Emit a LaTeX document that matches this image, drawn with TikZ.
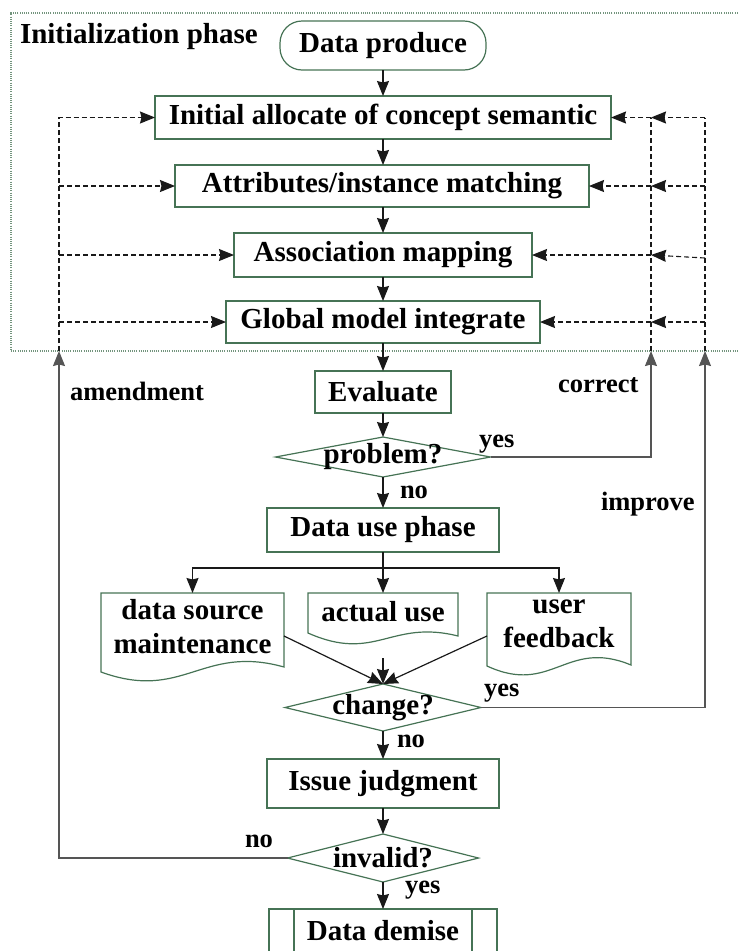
\documentclass[tikz,border=0pt]{standalone}
\usepackage{fontspec}
\setmainfont{Liberation Serif}
\usetikzlibrary{arrows.meta,shapes.geometric,calc}

\definecolor{boxgreen}{RGB}{70,115,85}
\definecolor{framegreen}{RGB}{115,148,125}
\definecolor{flowgray}{RGB}{25,25,25}
\definecolor{backgray}{RGB}{85,85,85}

\begin{document}
\begin{tikzpicture}[x=1pt,y=-1pt,
  >={Stealth[length=15pt,width=12pt,inset=1.5pt]},
  every node/.style={font=\bfseries\fontsize{29}{34}\selectfont, inner sep=0pt, outer sep=0pt},
  box/.style={draw=boxgreen, line width=1.2pt, rectangle, align=center},
  term/.style={box, rounded corners=22pt},
  dmd/.style={draw=boxgreen, line width=1.2pt, diamond},
  doctext/.style={align=center},
  docline/.style={draw=boxgreen, line width=1.2pt},
  lbl/.style={font=\bfseries\fontsize{26.5}{30}\selectfont, anchor=base west},
  flow/.style={draw=flowgray, line width=1.2pt},
  backline/.style={draw=backgray, line width=1.3pt},
  dashline/.style={draw=flowgray, line width=1.1pt, dash pattern=on 5pt off 3pt},
  frameline/.style={draw=framegreen, line width=1.1pt, dash pattern=on 1pt off 1.2pt}
]
\useasboundingbox (0,0) rectangle (737,951);

% initialization phase frame
\draw[frameline] (740,13) -- (11,13) -- (11,351) -- (740,351);
\node[anchor=base west] (ttl) at (20,43) {Initialization phase};

% main column
\node[term, minimum width=206pt, minimum height=49pt] (dp) at (383,45.5) {Data produce};
\node[box, minimum width=456pt, minimum height=43pt] (ini) at (383,117.5) {Initial allocate of concept semantic};
\node[box, minimum width=414pt, minimum height=42pt] (att) at (382,186) {Attributes/instance matching};
\node[box, minimum width=298pt, minimum height=44pt] (asc) at (383,255) {Association mapping};
\node[box, minimum width=314pt, minimum height=42pt] (glb) at (383,322) {Global model integrate};
\node[box, minimum width=136pt, minimum height=42pt] (evl) at (383,392) {Evaluate};
\node[dmd, minimum width=215pt, minimum height=40pt, label={center:problem?}] (prb) at (383,457) {};
\node[box, minimum width=232pt, minimum height=44pt] (use) at (383,530) {Data use phase};

% document shapes of the data use phase
\draw[docline] (101,593) -- (284,593) -- (284,667)
  .. controls (201.7,644) and (183.4,702) .. (101,672) -- cycle;
\draw[docline] (308,593) -- (458,593) -- (458,636)
  .. controls (390.5,619) and (375.5,663) .. (308,633) -- cycle;
\draw[docline] (487,593) -- (631,593) -- (631,665)
  .. controls (566.2,638) and (551.8,696) .. (487,666) -- cycle;
\node[doctext, minimum width=183pt, minimum height=68pt] (dsm) at (192.5,627) {data source\\maintenance};
\node[doctext, minimum width=150pt, minimum height=38pt] (act) at (383,612) {actual use};
\node[doctext, minimum width=144pt, minimum height=61pt] (ufb) at (559,623.5) {user\\feedback};

\node[dmd, minimum width=196pt, minimum height=47pt, label={center:change?}] (chg) at (383,707.5) {};
\node[box, minimum width=232pt, minimum height=49pt] (isj) at (383,783.5) {Issue judgment};
\node[dmd, minimum width=191pt, minimum height=48pt, label={center:invalid?}] (inv) at (383,858) {};
\node[box, minimum width=228pt, minimum height=44pt] (dmz) at (383,931) {Data demise};
\draw[docline] ([xshift=25pt]dmz.north west) -- ([xshift=25pt]dmz.south west);
\draw[docline] ([xshift=-25pt]dmz.north east) -- ([xshift=-25pt]dmz.south east);

% main flow
\draw[flow,->] (dp) -- (ini);
\draw[flow,->] (ini) -- (att.north -| ini);
\draw[flow,->] (att.south -| asc) -- (asc);
\draw[flow,->] (asc) -- (glb);
\draw[flow,->] (glb) -- (evl);
\draw[flow,->] (evl) -- (prb);
\draw[flow,->] (prb) -- (use);
\coordinate (br) at (383,568);
\draw[flow] (use) -- (br);
\draw[flow,->] (br) -| (dsm.north);
\draw[flow,->] (br) -- (act.north);
\draw[flow,->] (br) -| (ufb.north);
\draw[flow,->] ([yshift=-9pt]dsm.east) -- (chg.north);
\draw[flow,->] ([yshift=-27pt]act.south) -- (chg.north);
\draw[flow,->] ([yshift=-12.5pt]ufb.west) -- (chg.north);
\draw[flow,->] (chg) -- (isj);
\draw[flow,->] (isj) -- (inv);
\draw[flow,->] (inv) -- (dmz);

% feedback loops
\coordinate (Lb) at (59,351);
\coordinate (Ca) at (651,351);
\coordinate (Ia) at (705,351);
\draw[backline,->] (inv.west) -| (Lb);
\draw[backline,->] (prb.east) -| (Ca);
\draw[backline,->] (chg.east) -| (Ia);

% amendment branch
\draw[dashline,->] (Lb) |- (ini.west);
\draw[dashline,->] (att.west -| Lb) -- (att.west);
\draw[dashline,->] (asc.west -| Lb) -- (asc.west);
\draw[dashline,->] (glb.west -| Lb) -- (glb.west);

% correct / improve branches
\draw[dashline] (Ca) -- (Ca |- ini.east);
\draw[dashline] (Ia) -- (Ia |- ini.east);
\foreach \row in {ini,att,glb}{
  \draw[dashline,->] (\row.east -| Ia) -- (\row.east -| Ca);
  \draw[dashline,->] (\row.east -| Ca) -- (\row.east);
}
\draw[dashline,->] ([yshift=-3pt]asc.east -| Ia) -- (asc.east -| Ca);
\draw[dashline,->] (asc.east -| Ca) -- (asc.east);

% labels
\node[lbl] (lamend) at (70,400) {amendment};
\node[lbl] (lcorr) at (558,392) {correct};
\node[lbl] (limpr) at (601,510) {improve};
\node[lbl] (lyes1) at (479,447) {yes};
\node[lbl] (lno1) at (400,498) {no};
\node[lbl] (lyes2) at (484,696) {yes};
\node[lbl] (lno2) at (397,747) {no};
\node[lbl] (lno3) at (245,847) {no};
\node[lbl] (lyes3) at (405,893) {yes};
\end{tikzpicture}
\end{document}
